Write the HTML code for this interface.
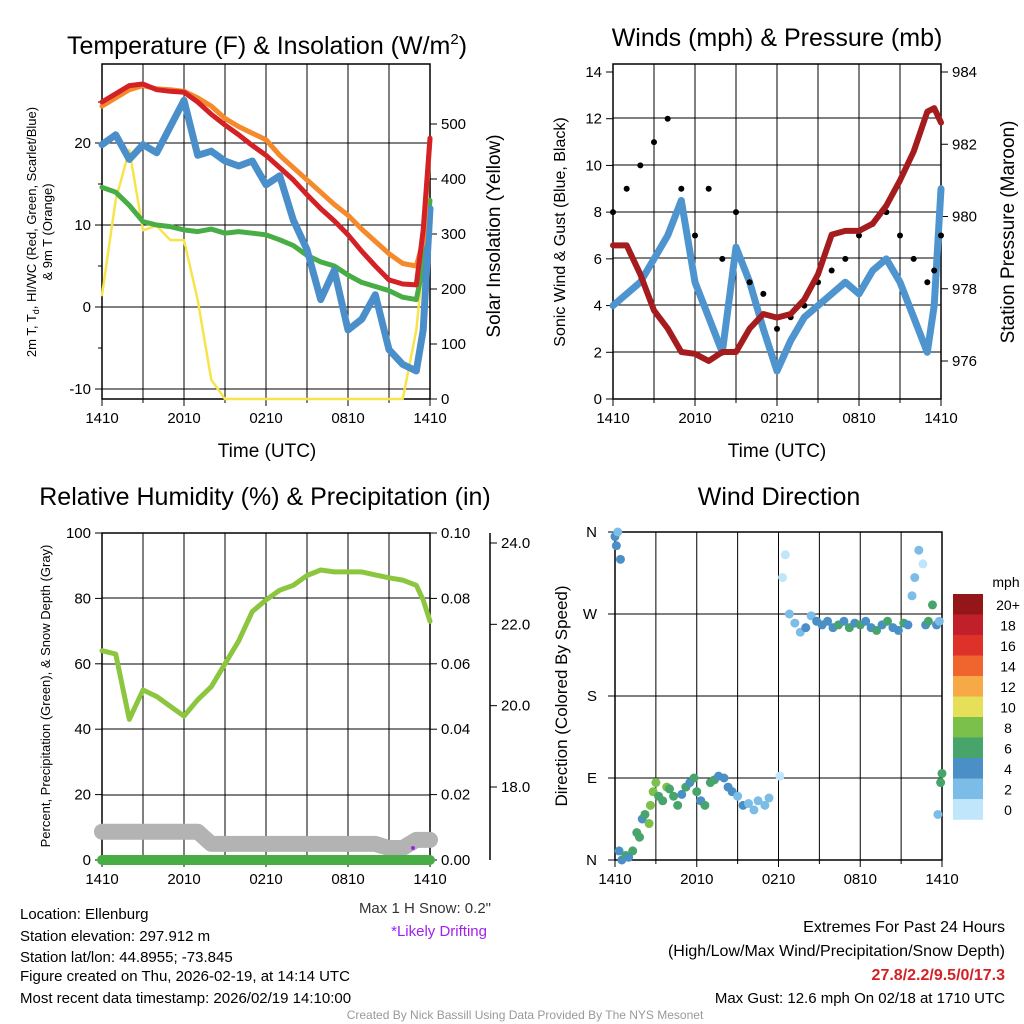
<!DOCTYPE html>
<html><head><meta charset="utf-8"><style>
body{margin:0;background:#fff;}
svg{display:block;font-family:"Liberation Sans",sans-serif;}
</style></head><body>
<svg id="c" width="1024" height="1024" viewBox="0 0 1024 1024"></svg>
<script>
// ---- data (hourly from 1410 to 1410 next day) ----
const hours=[0,1,2,3,4,5,6,7,8,9,10,11,12,13,14,15,16,17,18,19,20,21,22,23,23.5,24];
const xTickLabels=["1410","2010","0210","0810","1410"];
const tempRed=[25,26,27,27.2,26.5,26.3,26.2,25,23.5,22.2,21,19.7,18.5,17,15.5,13.7,12,10.5,8.8,6.8,5,3.3,2.8,2.7,9.4,20.6];
const tempOrange=[24.5,25.5,26.5,27,26.6,26.5,26.3,25.5,24.5,23,22,21.2,20.4,18.5,17,15.5,14,12.5,11.2,9.5,8,6.5,5.3,5,8,20.5];
const dewGreen=[14.6,14,12.4,10.4,10,9.8,9.4,9.2,9.5,9,9.2,9,8.8,8.2,7.5,6.3,5.5,5,3.9,3,2.5,2,1.2,0.9,5,13];
const windChillBlue=[19.8,21,18,19.8,18.8,22,25.2,18.5,19,17.8,17.2,17.8,14.9,16,10.6,7,0.9,4.5,-2.8,-1.5,1.5,-5.2,-7,-7.8,-2.8,12];
const insolation=[189,362,453,307,315,289,289,180,35,0,0,0,0,0,0,0,0,0,0,0,0,0,0,125,250,362];
const sonicWind=[4,4.5,5,6,7,8.5,5,3.5,2,6.5,5,3,1.2,2.5,3.5,4,4.5,5,4.5,5.5,6,5,3.5,2,4,9];
const gustWind=[8,9,10,11,12,9,7,9,6,8,5,4.5,3,3.5,4,5,5.5,6,7,7.5,8,7,6,5,5.5,7];
const pressure=[979.2,979.2,978.4,977.4,976.9,976.25,976.2,976,976.25,976.25,976.9,977.3,977.2,977.3,977.7,978.4,979.5,979.6,979.6,979.8,980.3,981,981.8,982.9,983,982.6];
const rhGreen=[64,63,43,52,50,47,44,49,53,60,67,76,79.5,82.5,84,87,88.7,88.1,88.1,88.1,87.2,86.3,85.6,84,79.5,73];
const snowDepth=[16.9,16.9,16.9,16.9,16.9,16.9,16.9,16.9,16.6,16.6,16.6,16.6,16.6,16.6,16.6,16.6,16.6,16.6,16.6,16.6,16.6,16.5,16.5,16.7,16.7,16.7];
const precip=[0,0,0,0,0,0,0,0,0,0,0,0,0,0,0,0,0,0,0,0,0,0,0,0,0,0];
const dirHours=[0,0.1,0.2,0.4,0.3,0.5,0.8,1,1.3,1.6,1.8,2,2.2,2.5,2.6,2.8,3,3.2,3.5,3.8,4,4.3,4.6,4.9,5.2,5.5,5.8,6,6.3,6.6,7,7.3,7.6,8,8.3,8.6,9,9.4,9.8,10.2,10.5,11,11.3,12.1,12.3,12.5,12.8,13.2,13.6,14,14.4,14.8,15.2,15.6,16,16.4,16.8,17.2,17.6,18,18.4,18.8,19.2,19.6,20,20.4,20.8,21.2,21.5,21.8,22,22.3,22.6,22.8,23,23.3,23.6,23.8,24,23.9,23.7];
const dirDeg=[355,345,360,330,10,0,5,3,10,30,25,45,50,40,60,75,85,70,65,80,78,70,60,72,80,85,90,75,65,60,85,88,92,90,80,75,70,60,62,55,65,60,68,92,310,335,270,260,250,255,268,262,258,262,255,258,262,255,260,258,262,255,252,258,262,255,252,260,258,290,310,340,325,258,262,280,258,262,95,85,50];
const dirSpeed=[4,4,2,4,4,4,6,4,6,6,6,4,6,8,8,8,8,6,6,8,6,6,6,4,6,4,6,6,4,6,6,6,4,4,4,4,2,4,2,2,2,2,2,0,0,0,2,2,2,4,2,4,4,4,4,6,4,6,4,6,4,4,6,4,6,4,4,6,4,2,2,2,0,4,6,6,4,2,6,6,2];
const cbLabels=["20+","18","16","14","12","10","8","6","4","2","0"];
const cbColors=["#951619","#c1202a","#de3129","#f0642d","#f7a847","#e6df58","#7ac04a","#47a56b","#4a8fc5","#7cbde7","#bfe6fb"];

const NS="http://www.w3.org/2000/svg";
const svg=document.getElementById('c');
function el(tag,attrs,parent,text){const e=document.createElementNS(NS,tag);for(const k in attrs)e.setAttribute(k,attrs[k]);if(text!==undefined)e.textContent=text;(parent||svg).appendChild(e);return e;}
function xs(x0,x1){return h=>x0+(x1-x0)*h/24;}
function lin(v0,y0,v1,y1){return v=>y0+(v-v0)*(y1-y0)/(v1-v0);}
function pathD(X,Y,xsArr,vals){return xsArr.map((h,i)=>(i?'L':'M')+X(h).toFixed(1)+','+Y(vals[i]).toFixed(1)).join('');}

function frame(g,x0,y0,x1,y1,gridY){
  for(let k=1;k<8;k++){const x=x0+(x1-x0)*k/8;
    const ln=el('line',{x1:x,y1:y0,x2:x,y2:y1,stroke:'#000','stroke-width':1},g);
    }
  gridY.forEach(y=>{const ln=el('line',{x1:x0,y1:y,x2:x1,y2:y,stroke:'#000','stroke-width':1},g);
    });
  const r=el('rect',{x:x0,y:y0,width:x1-x0,height:y1-y0,fill:'none',stroke:'#000','stroke-width':1.5},g);
  
  for(let k=0;k<=8;k++){const x=x0+(x1-x0)*k/8;el('line',{x1:x,y1:y1,x2:x,y2:y1+(k%2?4:7),stroke:'#000'},g);}
  xTickLabels.forEach((t,i)=>{const tx=el('text',{x:x0+(x1-x0)*i/4,y:y1+24,'font-size':15,'text-anchor':'middle'},g,t);
    });
}
function ticksL(g,x,list,Y,fs){list.forEach(v=>{const y=Y(v);el('line',{x1:x-7,y1:y,x2:x,y2:y,stroke:'#000'},g);
  const t=el('text',{x:x-11,y:y+5,'font-size':fs||15,'text-anchor':'end'},g,String(v));});}
function ticksR(g,x,list,Y,fmt){list.forEach(v=>{const y=Y(v);el('line',{x1:x,y1:y,x2:x+7,y2:y,stroke:'#000'},g);
  const t=el('text',{x:x+11,y:y+5,'font-size':15},g,fmt?fmt(v):String(v));});}
function line(g,X,Y,vals,color,w,name){const p=el('path',{d:pathD(X,Y,hours,vals),fill:'none',stroke:color,'stroke-width':w,'stroke-linejoin':'round','stroke-linecap':'round'},g);
  return p;}

// ---------- Panel 1 ----------
let g=el('g',{});
let X=xs(102,430), Y=lin(0,307,20,143), Yi=lin(0,399,500,124);
frame(g,102,64,430,399,[143,225,307,389]);
ticksL(g,102,[-10,0,10,20],Y);
[-5,5,15,25].forEach(v=>el('line',{x1:98,y1:Y(v),x2:102,y2:Y(v),stroke:'#000'},g));
ticksR(g,430,[0,100,200,300,400,500],Yi);
line(g,X,Yi,insolation,'#f8e44a',2.5,'insolation-line');
line(g,X,Y,dewGreen,'#47ad44',5,'dewpoint-line');
line(g,X,Y,windChillBlue,'#4a8fca',7,'windchill-line');
line(g,X,Y,tempOrange,'#f58a2c',5,'temp-9m-line');
line(g,X,Y,tempRed,'#d42125',5,'temp-2m-line');
let t=el('text',{x:267,y:54,'font-size':25,'text-anchor':'middle'},g);t.innerHTML='Temperature (F) &amp; Insolation (W/m<tspan dy="-10" font-size="15">2</tspan><tspan dy="10">)</tspan>';

t=el('text',{x:267,y:457,'font-size':19,'text-anchor':'middle'},g,'Time (UTC)');
t=el('text',{x:0,y:0,'font-size':13,'text-anchor':'middle',transform:'translate(36,232) rotate(-90)'},g);
t.innerHTML='2m T, T<tspan dy="3" font-size="9">d</tspan><tspan dy="-3">, HI/WC (Red, Green, Scarlet/Blue)</tspan>';
t=el('text',{x:0,y:0,'font-size':13,'text-anchor':'middle',transform:'translate(52,232) rotate(-90)'},g,'& 9m T (Orange)');
t=el('text',{x:0,y:0,'font-size':19,'text-anchor':'middle',transform:'translate(500,236) rotate(-90)'},g,'Solar Insolation (Yellow)');

// ---------- Panel 2 ----------
g=el('g',{});
X=xs(613,941); Y=lin(0,399,14,72); const Yp=lin(976,361,984,72);
frame(g,613,64,941,399,[118,165,212,258,305,352]);
ticksL(g,613,[0,2,4,6,8,10,12,14],Y);
ticksR(g,941,[976,978,980,982,984],Yp);
line(g,X,Y,sonicWind,'#4e95d0',7,'sonic-wind-line');
gustWind.forEach((v,i)=>{const c=el('circle',{cx:X(hours[i]),cy:Y(v),r:3,fill:'#000'},g);});
line(g,X,Yp,pressure,'#a51c1f',6,'pressure-line');
t=el('text',{x:777,y:46,'font-size':25,'text-anchor':'middle'},g,'Winds (mph) & Pressure (mb)');
t=el('text',{x:777,y:457,'font-size':19,'text-anchor':'middle'},g,'Time (UTC)');
t=el('text',{x:0,y:0,'font-size':16,'text-anchor':'middle',transform:'translate(565,232) rotate(-90)'},g,'Sonic Wind & Gust (Blue, Black)');
t=el('text',{x:0,y:0,'font-size':19,'text-anchor':'middle',transform:'translate(1014,232) rotate(-90)'},g,'Station Pressure (Maroon)');

// ---------- Panel 3 ----------
g=el('g',{});
X=xs(102,430); Y=lin(0,860,100,533); const Ypr=lin(0,860,0.1,533), Ys=lin(18,787,24,543);
frame(g,102,533,430,860,[598,664,729,795]);
ticksL(g,102,[0,20,40,60,80,100],Y);
ticksR(g,430,[0,0.02,0.04,0.06,0.08,0.1],Ypr,v=>v.toFixed(2));
el('line',{x1:490,y1:533,x2:490,y2:860,stroke:'#000','stroke-width':1.5},g);
[18,20,22,24].forEach(v=>{el('line',{x1:490,y1:Ys(v),x2:497,y2:Ys(v),stroke:'#000'},g);
  const tt=el('text',{x:501,y:Ys(v)+5,'font-size':15},g,v.toFixed(1));});
line(g,X,Ys,snowDepth,'#b3b3b3',16,'snow-depth-line');
line(g,X,Ypr,precip,'#47ad44',10,'precip-line');
line(g,X,Y,rhGreen,'#8cc63f',5,'rh-line');
let c=el('circle',{cx:413,cy:848,r:2,fill:'#a020f0'},g);
t=el('text',{x:265,y:505,'font-size':25,'text-anchor':'middle'},g,'Relative Humidity (%) & Precipitation (in)');
t=el('text',{x:0,y:0,'font-size':13,'text-anchor':'middle',transform:'translate(50,696) rotate(-90)'},g,'Percent, Precipitation (Green), & Snow Depth (Gray)');

// ---------- Panel 4 ----------
g=el('g',{});
X=xs(615,942); Y=lin(0,860,360,532);
frame(g,615,532,942,860,[614,696,778]);
[[0,'N'],[90,'E'],[180,'S'],[270,'W'],[360,'N']].forEach(([v,l])=>{el('line',{x1:608,y1:Y(v),x2:615,y2:Y(v),stroke:'#000'},g);
  const tt=el('text',{x:597,y:Y(v)+5,'font-size':15,'text-anchor':'end'},g,l);});
function spdColor(s){const idx=Math.min(10,Math.max(0,Math.round(s/2)));return cbColors[10-idx];}
dirHours.forEach((h,i)=>{const cc=el('circle',{cx:X(h),cy:Y(dirDeg[i]),r:4.5,fill:spdColor(dirSpeed[i])},g);
  });
t=el('text',{x:779,y:505,'font-size':25,'text-anchor':'middle'},g,'Wind Direction');
t=el('text',{x:0,y:0,'font-size':17,'text-anchor':'middle',transform:'translate(567,696) rotate(-90)'},g,'Direction (Colored By Speed)');
const cb=el('g',{},g);
cbColors.forEach((col,i)=>{const y=594+i*20.5;el('rect',{x:953,y:y,width:30,height:20.8,fill:col},cb);
  const tt=el('text',{x:1008,y:y+16,'font-size':14,'text-anchor':'middle'},cb,cbLabels[i]);});
t=el('text',{x:1006,y:587,'font-size':14,'text-anchor':'middle'},cb,'mph');

// ---------- footer texts ----------
const f=el('g',{});
const infoLines=["Location: Ellenburg","Station elevation: 297.912 m","Station lat/lon: 44.8955; -73.845","Figure created on Thu, 2026-02-19, at 14:14 UTC","Most recent data timestamp: 2026/02/19 14:10:00"];
const infoY=[919,941,962,981,1003];
infoLines.forEach((s,i)=>{
  const tt=el('text',{x:20,y:infoY[i],'font-size':15},f,s);});
t=el('text',{x:491,y:913,'font-size':15,'text-anchor':'end',fill:'#333'},f,'Max 1 H Snow: 0.2"');
t=el('text',{x:487,y:936,'font-size':15,'text-anchor':'end',fill:'#a020f0'},f,'*Likely Drifting');
t=el('text',{x:1005,y:932,'font-size':16,'text-anchor':'end'},f,'Extremes For Past 24 Hours');
t=el('text',{x:1005,y:956,'font-size':16,'text-anchor':'end'},f,'(High/Low/Max Wind/Precipitation/Snow Depth)');
t=el('text',{x:1005,y:980,'font-size':16,'text-anchor':'end',fill:'#d42125','font-weight':'bold'},f,'27.8/2.2/9.5/0/17.3');
t=el('text',{x:1005,y:1003,'font-size':15,'text-anchor':'end'},f,'Max Gust: 12.6 mph On 02/18 at 1710 UTC');
t=el('text',{x:525,y:1019,'font-size':12,'text-anchor':'middle',fill:'#999'},f,'Created By Nick Bassill Using Data Provided By The NYS Mesonet');
</script>
</body></html>
